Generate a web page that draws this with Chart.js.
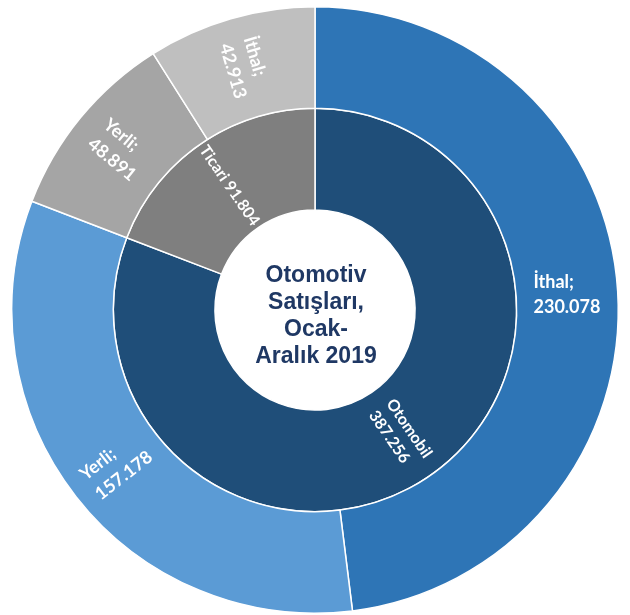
<!DOCTYPE html>
<html lang="tr">
<head>
  <meta charset="utf-8" />
  <title>Otomotiv Satışları, Ocak-Aralık 2019</title>
  <script src="https://cdn.jsdelivr.net/npm/chart.js@4.4.1/dist/chart.umd.min.js"></script>
  <style>
    html, body { margin: 0; padding: 0; background: #fff; }
    canvas { display: block; }
  </style>
</head>
<body>
  <canvas id="chart" width="630" height="615"></canvas>
  <script>
    // inner ring: vehicle type
    const innerLabels = ['Otomobil', 'Ticari']
    const innerValues = [387256, 91804]
    const innerColors = ['#1F4E79', '#7F7F7F']
    const innerWrap = [true, false]

    // outer ring: origin, per vehicle type
    const outerLabels = ['İthal', 'Yerli', 'Yerli', 'İthal']
    const outerValues = [230078, 157178, 48891, 42913]
    const outerColors = ['#2E75B6', '#5B9BD5', '#A5A5A5', '#BFBFBF']

    const centerLines = ['Otomotiv', 'Satışları,', 'Ocak-', 'Aralık 2019']

    function fmt(v) {
      return String(v).replace(/\B(?=(\d{3})+(?!\d))/g, '.')
    }

    const labelPlugin = {
      id: 'sliceLabels',
      afterDatasetsDraw(chart) {
        const ctx = chart.ctx
        chart.data.datasets.forEach((ds, di) => {
          const meta = chart.getDatasetMeta(di)
          const outer = di === 0
          meta.data.forEach((arc, i) => {
            const p = arc.getProps(['x', 'y', 'startAngle', 'endAngle', 'innerRadius', 'outerRadius'], true)
            const mid = (p.startAngle + p.endAngle) / 2
            const r = (p.innerRadius + p.outerRadius) / 2
            const x = p.x + Math.cos(mid) * r
            const y = p.y + Math.sin(mid) * r
            let rot = mid
            while (rot > Math.PI) rot -= 2 * Math.PI
            while (rot <= -Math.PI) rot += 2 * Math.PI
            if (rot > Math.PI / 2) rot -= Math.PI
            if (rot < -Math.PI / 2) rot += Math.PI
            if (Math.abs(rot) < 0.1) rot = 0

            let lines, size, lh
            if (outer) {
              lines = [ds.names[i] + ';', fmt(ds.data[i])]
              size = 18; lh = 25
            } else {
              lines = innerWrap[i]
                ? [ds.names[i], fmt(ds.data[i])]
                : [ds.names[i] + ' ' + fmt(ds.data[i])]
              size = 16; lh = 21
            }
            ctx.save()
            ctx.translate(x, y)
            ctx.rotate(rot)
            ctx.font = 'bold ' + size + 'px Lato, "Open Sans", sans-serif'
            ctx.fillStyle = '#ffffff'
            ctx.textBaseline = 'middle'
            ctx.textAlign = 'left'
            const w = Math.max(...lines.map(l => ctx.measureText(l).width))
            const top = -(lines.length - 1) * lh / 2
            lines.forEach((l, k) => ctx.fillText(l, -w / 2, top + k * lh))
            ctx.restore()
          })
        })

        // title in the hole
        const a = chart.getDatasetMeta(0).data[0]
        ctx.save()
        ctx.font = 'bold 23px "Liberation Sans", Arial, sans-serif'
        ctx.fillStyle = '#1F3864'
        ctx.textAlign = 'center'
        ctx.textBaseline = 'alphabetic'
        centerLines.forEach((l, k) => ctx.fillText(l, a.x + 1, a.y - 28 + k * 27))
        ctx.restore()
      }
    }

    new Chart(document.getElementById('chart'), {
      type: 'doughnut',
      data: {
        labels: outerLabels,
        datasets: [
          {
            data: outerValues,
            names: outerLabels,
            backgroundColor: outerColors,
            borderColor: '#ffffff',
            borderWidth: 1.5,
            hoverOffset: 0,
            weight: 1,
          },
          {
            data: innerValues,
            names: innerLabels,
            backgroundColor: innerColors,
            borderColor: '#ffffff',
            borderWidth: 1.5,
            hoverOffset: 0,
            weight: 1,
          },
        ],
      },
      options: {
        responsive: false,
        animation: false,
        cutout: '33%',
        layout: { padding: { top: 6, bottom: 1, left: 11, right: 11 } },
        plugins: {
          legend: { display: false },
          tooltip: { enabled: false },
        },
      },
      plugins: [labelPlugin],
    })
  </script>
</body>
</html>
